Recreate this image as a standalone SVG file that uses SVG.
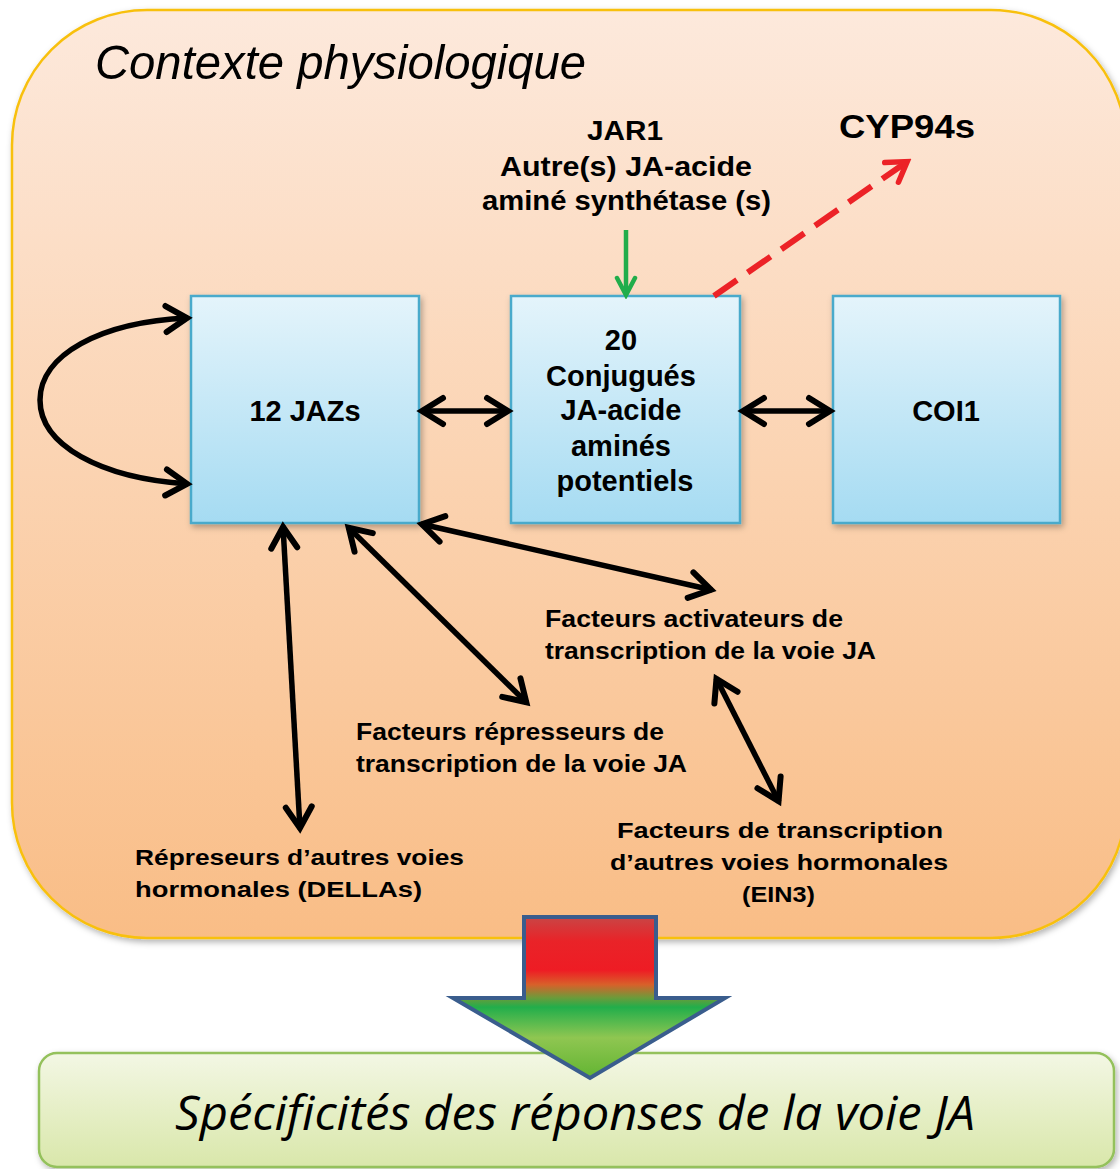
<svg xmlns="http://www.w3.org/2000/svg" width="1120" height="1169" viewBox="0 0 1120 1169">
<defs>
<linearGradient id="gMain" x1="0" y1="0" x2="0" y2="1">
<stop offset="0" stop-color="#fde9dc"/>
<stop offset="1" stop-color="#f9bd86"/>
</linearGradient>
<linearGradient id="gBox" x1="0" y1="0" x2="0" y2="1">
<stop offset="0" stop-color="#e4f4fb"/>
<stop offset="1" stop-color="#a5dbf2"/>
</linearGradient>
<linearGradient id="gBottom" x1="0" y1="0" x2="0" y2="1">
<stop offset="0" stop-color="#f3f7e4"/>
<stop offset="1" stop-color="#d9e7aa"/>
</linearGradient>
<linearGradient id="gArrow" gradientUnits="userSpaceOnUse" x1="0" y1="917" x2="0" y2="1078">
<stop offset="0" stop-color="#c94545"/>
<stop offset="0.15" stop-color="#e92328"/>
<stop offset="0.33" stop-color="#ee1c24"/>
<stop offset="0.42" stop-color="#d8602a"/>
<stop offset="0.5" stop-color="#6e9a3a"/>
<stop offset="0.56" stop-color="#22ae4b"/>
<stop offset="0.75" stop-color="#8fc651"/>
<stop offset="1" stop-color="#62b432"/>
</linearGradient>
<filter id="shadow" x="-5%" y="-5%" width="112%" height="112%">
<feDropShadow dx="2" dy="3" stdDeviation="3" flood-color="#000" flood-opacity="0.3"/>
</filter>
<marker id="ahBlack" viewBox="-30 -20 36 40" refX="0" refY="0" markerWidth="36" markerHeight="40" markerUnits="userSpaceOnUse" orient="auto-start-reverse">
<path d="M-22,-13 L-1,0 L-22,13" fill="none" stroke="#000" stroke-width="6" stroke-linecap="round" stroke-linejoin="miter"/>
</marker>
<marker id="ahGreen" viewBox="-24 -14 28 28" refX="0" refY="0" markerWidth="28" markerHeight="28" markerUnits="userSpaceOnUse" orient="auto">
<path d="M-17,-9 L0,0 L-17,9" fill="none" stroke="#21ad4b" stroke-width="4.5" stroke-linecap="round" stroke-linejoin="miter"/>
</marker>
<marker id="ahRed" viewBox="-28 -18 32 36" refX="0" refY="0" markerWidth="32" markerHeight="36" markerUnits="userSpaceOnUse" orient="auto">
<path d="M-20,-12 L-1,0 L-20,12" fill="none" stroke="#ec2227" stroke-width="5.5" stroke-linecap="round" stroke-linejoin="miter"/>
</marker>
</defs>
<style>
.box { fill: url(#gBox); stroke: #48aacb; stroke-width: 2.5; filter: url(#shadow); }
.bl { font-family: "Liberation Sans", Arial, sans-serif; font-weight: bold; fill: #000; }
.cond { font-family: "Liberation Sans", Arial, sans-serif; font-weight: bold; fill: #000; }
.conn { fill: none; stroke: #000; stroke-width: 5.5; stroke-linecap: butt; }
</style>
<rect width="1120" height="1169" fill="#ffffff"/>

<g id="contexte">
<rect x="12" y="10" width="1114" height="928" rx="135" ry="135" fill="url(#gMain)" stroke="#f8c011" stroke-width="2.5" filter="url(#shadow)"/>
<text x="95" y="79" font-family="'Liberation Sans', Arial, sans-serif" font-style="italic" font-size="49" textLength="491" lengthAdjust="spacingAndGlyphs" fill="#000">Contexte physiologique</text>
</g>

<g id="jar1">
<text class="cond" text-anchor="middle" x="625" y="140" font-size="27" textLength="76" lengthAdjust="spacingAndGlyphs">JAR1</text>
<text class="cond" x="500" y="176" font-size="27" textLength="252" lengthAdjust="spacingAndGlyphs">Autre(s)  JA-acide</text>
<text class="cond" x="482" y="210" font-size="27" textLength="289" lengthAdjust="spacingAndGlyphs">aminé synthétase (s)</text>
</g>

<g id="cyp94s">
<text class="bl" x="839" y="138" font-size="33" textLength="136" lengthAdjust="spacingAndGlyphs">CYP94s</text>
</g>

<g id="jazs">
<rect class="box" x="191" y="296" width="228" height="227"/>
<text class="bl" x="305" y="421" font-size="29" text-anchor="middle">12 JAZs</text>
</g>

<g id="conjugues">
<rect class="box" x="511" y="296" width="229" height="227"/>
<text class="bl" font-size="29" text-anchor="middle">
<tspan x="625" y="350">20</tspan>
<tspan x="625" y="386">Conjugués</tspan>
<tspan x="625" y="420">JA-acide</tspan>
<tspan x="625" y="456">aminés</tspan>
<tspan x="625" y="491">potentiels</tspan>
</text>
</g>

<g id="coi1">
<rect class="box" x="833" y="296" width="227" height="227"/>
<text class="bl" x="946" y="421" font-size="29" text-anchor="middle">COI1</text>
</g>

<g id="activateurs">
<text class="bl" x="545" y="627" font-size="23" textLength="298" lengthAdjust="spacingAndGlyphs">Facteurs activateurs de</text>
<text class="bl" x="545" y="659" font-size="23" textLength="331" lengthAdjust="spacingAndGlyphs">transcription de la voie JA</text>
</g>

<g id="represseurs">
<text class="bl" x="356" y="740" font-size="23" textLength="308" lengthAdjust="spacingAndGlyphs">Facteurs répresseurs de</text>
<text class="bl" x="356" y="772" font-size="23" textLength="331" lengthAdjust="spacingAndGlyphs">transcription de la voie JA</text>
</g>

<g id="dellas">
<text class="bl" x="135" y="865" font-size="22" textLength="329" lengthAdjust="spacingAndGlyphs">Répreseurs d’autres voies</text>
<text class="bl" x="135" y="897" font-size="22" textLength="287" lengthAdjust="spacingAndGlyphs">hormonales  (DELLAs)</text>
</g>

<g id="ein3">
<text class="bl" x="617" y="838" font-size="22" textLength="326" lengthAdjust="spacingAndGlyphs">Facteurs  de transcription</text>
<text class="bl" x="610" y="870" font-size="22" textLength="338" lengthAdjust="spacingAndGlyphs">d’autres voies hormonales</text>
<text class="bl" x="742" y="902" font-size="22" textLength="73" lengthAdjust="spacingAndGlyphs">(EIN3)</text>
</g>

<g id="connectors">
<line x1="626" y1="230" x2="626" y2="295" stroke="#21ad4b" stroke-width="4.5" marker-end="url(#ahGreen)"/>
<line x1="714" y1="296" x2="908" y2="161" stroke="#ec2227" stroke-width="6" stroke-dasharray="28 13" marker-end="url(#ahRed)"/>
<path class="conn" d="M188,318 C100,322 40,355 40,400 C40,445 100,478 188,484" marker-start="url(#ahBlack)" marker-end="url(#ahBlack)"/>
<line class="conn" x1="421" y1="411" x2="509" y2="411" marker-start="url(#ahBlack)" marker-end="url(#ahBlack)"/>
<line class="conn" x1="742" y1="411" x2="831" y2="411" marker-start="url(#ahBlack)" marker-end="url(#ahBlack)"/>
<line class="conn" x1="283" y1="526" x2="300" y2="829" marker-start="url(#ahBlack)" marker-end="url(#ahBlack)"/>
<line class="conn" x1="348" y1="527" x2="527" y2="703" marker-start="url(#ahBlack)" marker-end="url(#ahBlack)"/>
<line class="conn" x1="421" y1="524" x2="712" y2="590" marker-start="url(#ahBlack)" marker-end="url(#ahBlack)"/>
<line class="conn" x1="716" y1="678" x2="779" y2="802" marker-start="url(#ahBlack)" marker-end="url(#ahBlack)"/>
</g>

<g id="specificites">
<rect x="39" y="1053" width="1075" height="114" rx="18" ry="18" fill="url(#gBottom)" stroke="#94c15b" stroke-width="2.5" filter="url(#shadow)"/>
<text x="175" y="1130" font-family="'Open Sans', 'Liberation Sans', sans-serif" font-style="italic" font-size="47" textLength="800" lengthAdjust="spacingAndGlyphs" fill="#000">Spécificités des réponses de la voie JA</text>
</g>

<g id="bigArrow">
<polygon points="524,917 656,917 656,998 725,998 590,1078 453,998 524,998" fill="url(#gArrow)" stroke="#3a5d8d" stroke-width="4" stroke-linejoin="miter"/>
</g>
</svg>
